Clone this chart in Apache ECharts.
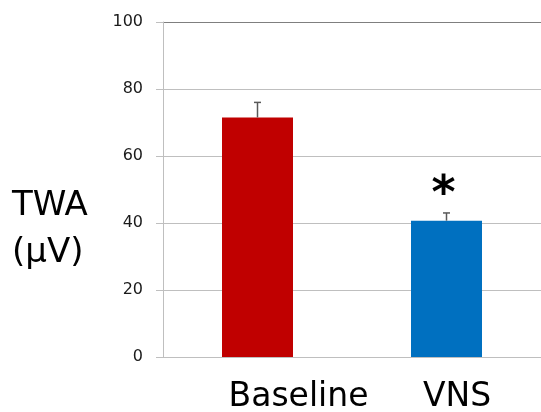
<!DOCTYPE html>
<html>
<head>
<meta charset="utf-8">
<script src="https://cdn.jsdelivr.net/npm/echarts@6/dist/echarts.min.js"></script>
<style>html,body{margin:0;padding:0;background:#fff}#c{width:541px;height:412px}</style>
</head>
<body>
<div id="c"></div>
<script>
const categories = ['Baseline', 'VNS'];
const means = [71.5, 40.7];
const errors = [4.5, 2.3];
const significance = ['', '*'];
const yTicks = [0, 20, 40, 60, 80, 100];
const barColors = ['#C00000', '#0070C0'];
const labelShift = [82, 21];

const chart = echarts.init(document.getElementById('c'), null, {renderer: 'canvas'});
const FONT = 'DejaVu Sans';
chart.setOption({
  animation: false,
  grid: {left: 163, right: 0, top: 22, bottom: 55, containLabel: false, outerBoundsMode: 'none'},
  xAxis: {
    type: 'category',
    data: categories.map((c, i) => ({value: c, textStyle: {padding: [0, 0, 0, labelShift[i]]}})),
    axisLine: {show: true, lineStyle: {color: '#bfbfbf', width: 1}},
    axisTick: {show: false},
    axisLabel: {fontFamily: FONT, fontSize: 33, color: '#000', margin: 24}
  },
  yAxis: {
    type: 'value',
    min: yTicks[0],
    max: yTicks[yTicks.length - 1],
    interval: yTicks[1] - yTicks[0],
    axisLine: {show: true, lineStyle: {color: '#bfbfbf', width: 1}},
    axisTick: {show: true, length: 7, lineStyle: {color: '#bfbfbf'}},
    axisLabel: {fontFamily: FONT, fontSize: 16, color: '#1a1a1a', margin: 20},
    splitLine: {show: true, lineStyle: {color: ['#bfbfbf','#bfbfbf','#bfbfbf','#bfbfbf','#bfbfbf','#7f7f7f'], width: 1}}
  },
  graphic: [{
    type: 'text', left: 12, top: 183,
    style: {text: 'TWA\n(μV)', font: '34px "DejaVu Sans"', fill: '#000', lineHeight: 47}
  }],
  series: [
    {
      type: 'bar',
      barWidth: 71,
      data: means.map((v, i) => ({value: v, itemStyle: {color: barColors[i]}})),
      z: 2
    },
    {
      type: 'custom',
      z: 3,
      data: categories.map((c, i) => [i, means[i], errors[i]]),
      renderItem: function (params, api) {
        const i = api.value(0);
        const lo = api.coord([i, api.value(1)]);
        const hi = api.coord([i, api.value(1) + api.value(2)]);
        const cw = 3.5;
        const children = [
          {type: 'line', shape: {x1: lo[0], y1: lo[1], x2: hi[0], y2: hi[1]}, style: {stroke: '#595959', lineWidth: 1.5}},
          {type: 'line', shape: {x1: hi[0] - cw, y1: hi[1], x2: hi[0] + cw, y2: hi[1]}, style: {stroke: '#595959', lineWidth: 1.5}}
        ];
        const sig = significance[params.dataIndex];
        if (sig) {
          children.push({type: 'text', x: hi[0] - 3, y: hi[1] - 17,
            style: {text: sig, font: 'bold 46px "DejaVu Sans"', fill: '#000', align: 'center', verticalAlign: 'middle'}});
        }
        return {type: 'group', children: children};
      }
    }
  ]
});
</script>
</body>
</html>
